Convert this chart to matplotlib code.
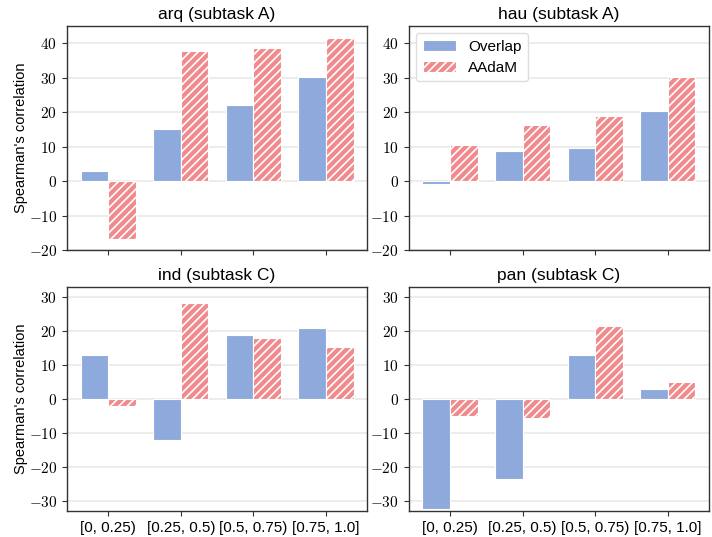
import numpy as np
import matplotlib
matplotlib.use("Agg")
import matplotlib.pyplot as plt
from matplotlib.ticker import FuncFormatter, MultipleLocator

plt.rcParams['font.family'] = ['Liberation Sans', 'DejaVu Sans']
plt.rcParams['mathtext.fontset'] = 'cm'
plt.rcParams['hatch.color'] = 'white'
plt.rcParams['hatch.linewidth'] = 1.2

bins = ['[0, 0.25)', '[0.25, 0.5)', '[0.5, 0.75)', '[0.75, 1.0]']
titles = ['arq (subtask A)', 'hau (subtask A)', 'ind (subtask C)', 'pan (subtask C)']

overlap_arq = [3.0, 15.1, 22.0, 30.1]
aadam_arq = [-16.9, 37.7, 38.6, 41.4]
overlap_hau = [-0.8, 8.7, 9.7, 20.4]
aadam_hau = [10.4, 16.2, 18.8, 30.1]
overlap_ind = [13.1, -11.9, 19.0, 20.8]
aadam_ind = [-2.1, 28.4, 18.1, 15.2]
overlap_pan = [-32.2, -23.5, 13.1, 3.1]
aadam_pan = [-5.0, -5.6, 21.4, 4.9]

overlaps = [overlap_arq, overlap_hau, overlap_ind, overlap_pan]
aadams = [aadam_arq, aadam_hau, aadam_ind, aadam_pan]

BLUE = '#8eaadc'
RED = '#f08a8c'

fig, axes = plt.subplots(2, 2, figsize=(7.12, 5.37), dpi=100)
fig.subplots_adjust(left=0.094, right=0.996, top=0.952, bottom=0.048,
                    wspace=0.138, hspace=0.165)

x = np.arange(len(bins))
w = 0.38
cm_fmt = FuncFormatter(lambda v, p: r'$%d$' % v if v >= 0 else r'$-%d$' % -v)

for i, ax in enumerate(axes.flat):
    ax.bar(x - w / 2, overlaps[i], w, color=BLUE, edgecolor='white',
           linewidth=0.8, label='Overlap', zorder=3)
    ax.bar(x + w / 2, aadams[i], w, color=RED, edgecolor='white',
           linewidth=0.8, hatch='////', label='AAdaM', zorder=3)
    ax.set_title(titles[i], fontsize=12.5, pad=5)
    ax.yaxis.set_major_locator(MultipleLocator(10))
    ax.yaxis.set_major_formatter(cm_fmt)
    ax.grid(axis='y', color='#e9e9e9', linewidth=1.2, zorder=0)
    ax.set_axisbelow(True)
    ax.set_xticks(x)
    ax.tick_params(axis='y', labelsize=11, length=3.5, color='#333333')
    ax.tick_params(axis='x', length=3.5, color='#333333')
    for s in ax.spines.values():
        s.set_color('#333333')
        s.set_linewidth(1.0)
    if i < 2:
        ax.set_ylim(-20, 45)
        ax.set_xticklabels([])
    else:
        ax.set_ylim(-33, 33)
        ax.set_xticklabels(bins, fontsize=11)
    if i % 2 == 0:
        ax.set_ylabel("Spearman's correlation", fontsize=10.5, labelpad=0.5)

axes[0, 1].legend(loc='upper left', fontsize=11, frameon=True,
                  edgecolor='#dddddd', framealpha=1, handlelength=2.2)

plt.savefig('out.png', dpi=100)
